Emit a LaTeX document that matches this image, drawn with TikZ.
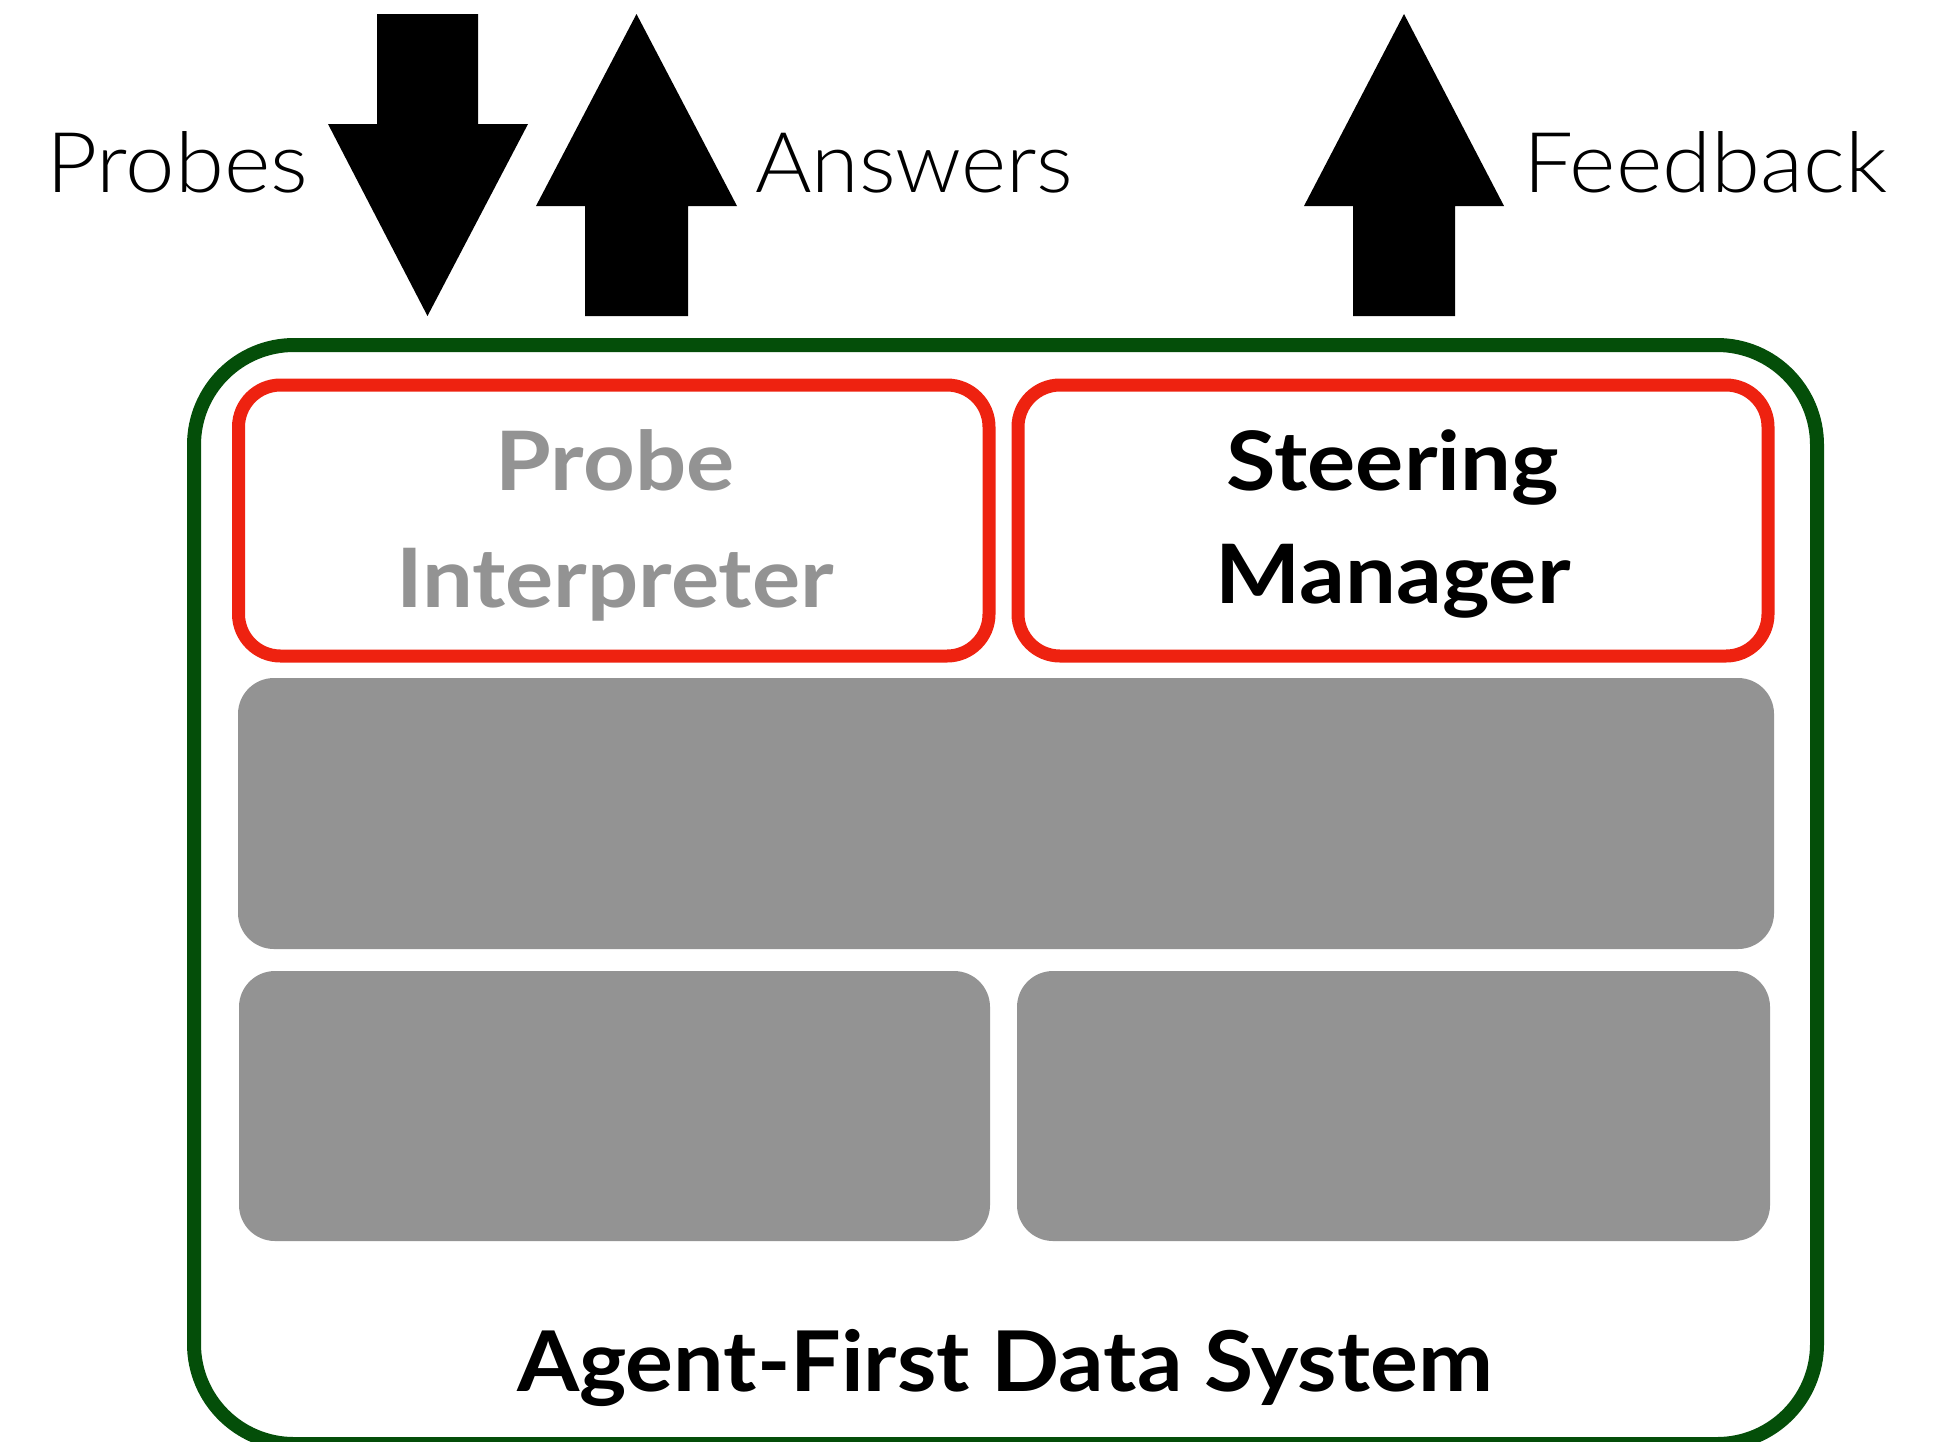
\documentclass[tikz,border=0pt]{standalone}
\usepackage{fontspec}
\setmainfont{Lato}
\newfontfamily\thinfont{Lato Light}[FakeStretch=1.06]
\newfontfamily\thinnarrowfont{Lato Light}[FakeStretch=1.03]
\newfontfamily\modfont{Lato}[FakeStretch=1.10]
\newfontfamily\titlefont{Lato}[FakeStretch=1.07]
\definecolor{framegreen}{RGB}{4,78,9}
\definecolor{boxred}{RGB}{238,34,16}
\definecolor{layergray}{RGB}{147,147,147}
\tikzset{
  frame/.style={draw=framegreen, line width=7pt, rounded corners=50pt},
  module/.style={draw=boxred, line width=6.5pt, rounded corners=21pt, fill=white},
  layer/.style={fill=layergray, rounded corners=18pt},
  bigarrow/.style={fill=black},
  flowlabel/.style={font=\thinfont\fontsize{41.9pt}{50pt}\selectfont, inner sep=0pt, anchor=base west},
  modlabel/.style={font=\modfont\bfseries\fontsize{41pt}{50pt}\selectfont, inner sep=0pt, anchor=base},
  titlelabel/.style={font=\titlefont\bfseries\fontsize{41.9pt}{50pt}\selectfont, inner sep=0pt, anchor=base}
}
\begin{document}
\begin{tikzpicture}[x=0.5pt,y=-0.5pt]
\useasboundingbox (0,0) rectangle (1936,1441);
\clip (0,0) rectangle (1936,1441);

% outer system frame
\draw[frame] (194,345) rectangle (1817,1444);

% top modules
\draw[module] (238.5,385) rectangle (989,656);
\draw[module] (1018,385) rectangle (1768,656);

% lower layers
\fill[layer] (238,678) rectangle (1774,949);
\fill[layer] (239,971) rectangle (990,1241);
\fill[layer] (1017,971) rectangle (1770,1241);

% probes come in
\fill[bigarrow] (377,14) -- (478,14) -- (478,124) -- (528,124) -- (427.5,316)
  -- (328,124) -- (377,124) -- cycle;
% answers go out
\fill[bigarrow] (636.5,14) -- (737,206) -- (688,206) -- (688,316) -- (585,316)
  -- (585,206) -- (536,206) -- cycle;
% feedback goes out
\fill[bigarrow] (1404,14) -- (1504,206) -- (1455,206) -- (1455,316) -- (1353,316)
  -- (1353,206) -- (1304,206) -- cycle;

% flow labels
\node[flowlabel] (probes) at (46,192) {Probes};
\node[flowlabel, font=\thinnarrowfont\fontsize{41.9pt}{50pt}\selectfont] (answers) at (755,192) {Answers};
\node[flowlabel] (feedback) at (1523,192) {Feedback};

% module labels
\node[modlabel, text=layergray] (pi1) at (615,490) {Probe};
\node[modlabel, text=layergray] (pi2) at (615,607) {Interpreter};
\node[modlabel] (sm1) at (1393,490) {Steering};
\node[modlabel] (sm2) at (1393,603) {Manager};

% system title
\node[titlelabel] (title) at (1005,1391) {Agent-First Data System};
\end{tikzpicture}
\end{document}
